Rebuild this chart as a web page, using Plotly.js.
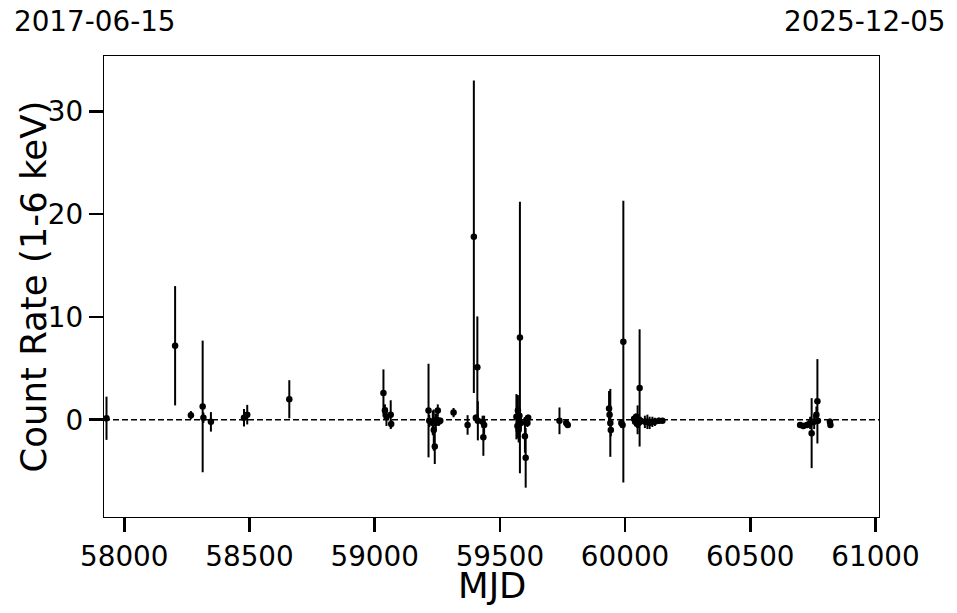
<!DOCTYPE html>
<html>
<head>
<meta charset="utf-8">
<script src="https://cdn.plot.ly/plotly-3.0.1.min.js"></script>
<style>html,body{margin:0;padding:0;background:#fff;}#chart{width:957px;height:613px;}</style>
</head>
<body>
<div id="chart"></div>
<script>
// Observation epochs (MJD)
const mjd = [
  57929, 58203, 58266, 58313, 58316, 58346, 58478, 58491, 58659,
  59035, 59041, 59047, 59064, 59066,
  59215, 59218, 59232, 59236, 59240, 59244, 59248, 59252, 59256, 59262,
  59315, 59371, 59396, 59404, 59410, 59412, 59431, 59434, 59437,
  59566, 59570, 59572, 59575, 59578, 59580, 59584, 59600, 59603, 59606, 59610, 59613,
  59738, 59765, 59771,
  59936, 59938, 59941, 59943, 59985, 59990, 59993,
  60036, 60040, 60044, 60048, 60050, 60054, 60058, 60062,
  60079, 60089, 60098, 60109, 60119, 60135, 60149,
  60699, 60712, 60726, 60739, 60745, 60755, 60764, 60768, 60770, 60818, 60820
];
// Count rate (1-6 keV)
const rate = [
  0.15, 7.2, 0.45, 1.3, 0.2, -0.2, 0.2, 0.5, 2.0,
  2.6, 0.9, 0.3, 0.5, -0.4,
  0.9, -0.1, -0.3, -1.0, -2.6, -0.2, 0.0, 0.9, -0.2, -0.1,
  0.7, -0.5, 17.8, 0.2, 5.1, -0.1, -0.2, -1.7, -0.5,
  0.3, -0.6, 0.9, -1.0, 0.4, 8.0, -0.3, -1.6, -3.7, 0.0, -0.3, 0.2,
  -0.1, -0.3, -0.5,
  1.1, 0.5, -0.3, -1.0, -0.3, -0.5, 7.6,
  0.1, -0.2, 0.3, -0.4, 0.0, -0.3, 3.1, -0.1,
  -0.2, -0.2, -0.3, -0.2, -0.2, -0.1, -0.1,
  -0.5, -0.6, -0.5, -0.3, -1.3, -0.2, 0.5, 1.8, -0.1, -0.2, -0.5
];
// 1-sigma uncertainties
const err = [
  2.1, 5.8, 0.4, 6.4, 0.5, 0.95, 0.85, 0.95, 1.85,
  2.3, 0.6, 0.9, 1.4, 0.4,
  4.55, 0.6, 1.2, 2.0, 1.7, 0.8, 0.6, 0.6, 0.4, 0.3,
  0.45, 0.95, 15.2, 0.3, 4.95, 1.9, 0.6, 1.8, 0.9,
  2.2, 1.2, 1.5, 1.2, 0.8, 13.2, 0.6, 1.6, 2.9, 0.4, 0.4, 0.3,
  1.3, 0.3, 0.3,
  1.7, 0.8, 3.3, 0.6, 0.3, 0.3, 13.7,
  0.3, 0.4, 0.3, 0.4, 1.4, 0.5, 5.7, 0.4,
  0.6, 0.7, 0.6, 0.5, 0.4, 0.3, 0.2,
  0.2, 0.3, 0.3, 0.6, 3.4, 0.7, 0.8, 4.1, 0.3, 0.3, 0.3
];
const xTicks = [58000, 58500, 59000, 59500, 60000, 60500, 61000];
const yTicks = [0, 10, 20, 30];
const xTitle = "MJD";
const yTitle = "Count Rate (1-6 keV)";
const startLabel = "2017-06-15";
const endLabel = "2025-12-05";
const xRange = [57919, 61014];
const yRange = [-9.45, 35.37];

const font = "DejaVu Sans, sans-serif";
const tickSize = 27.8;
const titleSize = 35.5;

const trace = {
  x: mjd, y: rate, type: "scatter", mode: "markers",
  marker: {color: "black", size: 6.5},
  error_y: {type: "data", array: err, visible: true, color: "black", thickness: 2, width: 0},
  hoverinfo: "x+y"
};

const layout = {
  width: 957, height: 613,
  margin: {l: 104, r: 78, t: 56, b: 96, pad: 0},
  paper_bgcolor: "white", plot_bgcolor: "white",
  showlegend: false,
  font: {family: font, color: "black"},
  xaxis: {
    range: xRange, tickvals: xTicks, ticktext: xTicks.map(String),
    ticks: "outside", ticklen: 14, tickwidth: 2.6, tickcolor: "black",
    showgrid: false, zeroline: false,
    showline: true, mirror: true, linecolor: "black", linewidth: 1.2,
    tickfont: {family: font, size: tickSize, color: "black"}
  },
  yaxis: {
    range: yRange, tickvals: yTicks, ticktext: yTicks.map(String),
    ticks: "outside", ticklen: 14, tickwidth: 2.6, tickcolor: "black",
    showgrid: false, zeroline: false,
    showline: true, mirror: true, linecolor: "black", linewidth: 1.2,
    tickfont: {family: font, size: tickSize, color: "black"}
  },
  shapes: [{
    type: "line", xref: "paper", yref: "y", x0: 0, x1: 1, y0: 0, y1: 0,
    line: {color: "black", width: 1.5, dash: "6px,3px"}, layer: "below"
  }],
  annotations: [
    {text: xTitle, xref: "paper", yref: "paper", x: 0.5, y: -0.149, xanchor: "center", yanchor: "middle",
     showarrow: false, font: {family: font, size: titleSize, color: "black"}},
    {text: yTitle, xref: "paper", yref: "paper", x: -0.0916, y: 0.5, xanchor: "center", yanchor: "middle",
     textangle: -90, showarrow: false, font: {family: font, size: titleSize, color: "black"}},
    {text: startLabel, xref: "paper", yref: "paper", x: -0.1187, y: 1.074, xanchor: "left", yanchor: "middle",
     showarrow: false, font: {family: font, size: tickSize, color: "black"}},
    {text: endLabel, xref: "paper", yref: "paper", x: 1.089, y: 1.074, xanchor: "right", yanchor: "middle",
     showarrow: false, font: {family: font, size: tickSize, color: "black"}}
  ]
};

Plotly.newPlot("chart", [trace], layout, {displayModeBar: false, staticPlot: true});
</script>
</body>
</html>
